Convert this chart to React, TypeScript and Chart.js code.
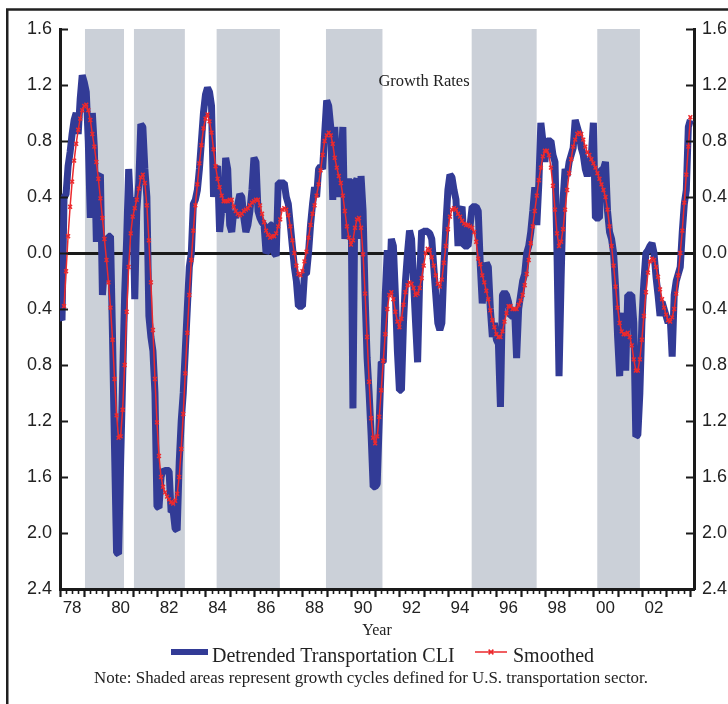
import React, { useEffect, useRef } from 'react';
import { Chart, registerables } from 'chart.js';

Chart.register(...registerables);

// ---- data (monthly values) ----
const START_YEAR = 1978;
const CLI_START_MONTH = 0; // Jan 1978
const SMOOTH_START_MONTH = 2; // Mar 1978

const cliValues = [
  -0.45, -0.48, 0.40, 0.42, 0.62, 0.72, 0.85, 0.95, 1.00, 0.85, 1.10, 1.27,
  1.22, 1.15, 0.80, 0.25, 1.00, 0.75, 0.08, 0.55, 0.56, -0.30, -0.10, -0.20,
  0.12, 0.12, -0.60, -1.40, -2.14, -2.15, -1.50, -0.90, -0.30, 0.10, 0.60, 0.30,
  0.40, -0.33, 0.30, 0.50, 0.92, 0.90, 0.60, 0.40, -0.45, -0.60, -0.70, -1.00,
  -1.81, -1.82, -1.60, -1.55, -1.56, -1.55, -1.56, -1.85, -1.84, -1.97, -1.98, -1.50,
  -1.20, -1.00, -0.70, -0.40, -0.10, 0.00, 0.35, 0.38, 0.45, 0.60, 0.80, 1.00,
  1.13, 1.18, 1.15, 1.05, 0.40, 0.60, 0.62, 0.15, 0.30, 0.30, 0.68, 0.60,
  0.20, 0.15, 0.30, 0.25, 0.35, 0.42, 0.40, 0.25, 0.15, 0.20, 0.30, 0.45,
  0.68, 0.65, 0.30, 0.25, 0.22, 0.20, 0.00, 0.02, 0.20, 0.20, 0.00, -0.02,
  0.50, 0.50, 0.50, 0.50, 0.40, 0.35, 0.20, 0.05, -0.10, -0.20, -0.38, -0.38,
  -0.38, -0.15, -0.15, 0.00, 0.20, 0.35, 0.47, 0.40, 0.60, 0.62, 0.60, 0.85,
  1.09, 1.05, 0.90, 0.38, 0.90, 0.55, 0.40, 0.60, 0.90, 0.10, 0.50, 0.52,
  0.50, -1.11, 0.50, 0.53, 0.10, 0.55, 0.30, -0.30, -0.75, -1.00, -1.30, -1.67,
  -1.67, -1.65, -1.20, -0.78, -0.78, -0.30, 0.02, -0.30, 0.10, 0.05, -0.30, -0.70,
  -0.98, -0.98, -0.50, -0.20, 0.00, 0.16, 0.10, -0.20, -0.50, -0.78, -0.20, 0.16,
  0.15, 0.16, 0.15, 0.14, 0.10, -0.10, -0.30, -0.50, -0.55, -0.50, -0.10, 0.20,
  0.45, 0.56, 0.54, 0.45, 0.38, 0.05, 0.30, 0.33, 0.05, 0.05, 0.05, 0.20,
  0.33, 0.33, 0.33, 0.30, -0.08, -0.36, -0.20, -0.07, -0.10, -0.40, -0.60, -0.50,
  -0.62, -0.65, -1.10, -0.30, -0.28, -0.30, -0.35, -0.45, -0.45, -0.40, -0.75, -0.40,
  -0.30, -0.20, -0.15, 0.00, 0.05, 0.15, 0.30, 0.47, 0.20, 0.50, 0.93, 0.80,
  0.65, 0.80, 0.80, 0.80, 0.70, 0.65, 0.00, -0.88, -0.20, 0.38, 0.60, 0.55,
  0.65, 0.70, 0.75, 0.95, 0.90, 0.85, 0.75, 0.70, 0.60, 0.55, 0.60, 0.70,
  0.93, 0.25, 0.25, 0.25, 0.60, 0.60, 0.65, 0.30, 0.15, 0.10, 0.00, -0.25,
  -0.60, -0.88, -0.50, -0.43, -0.84, -0.30, -0.30, -0.30, -0.50, -1.31, -1.30, -1.00,
  -0.50, -0.20, 0.00, 0.02, 0.05, 0.07, 0.00, -0.17, -0.30, -0.45, -0.35, -0.40,
  -0.45, -0.50, -0.45, -0.74, -0.30, -0.20, -0.15, -0.10, 0.15, 0.35, 0.45, 0.90,
  0.95,
];

const smoothedValues = [
  -0.38, -0.13, 0.12, 0.33, 0.51, 0.66, 0.78, 0.88, 0.96, 1.02,
  1.05, 1.06, 1.02, 0.95, 0.85, 0.76, 0.65, 0.53, 0.39, 0.25, 0.10, -0.05,
  -0.21, -0.39, -0.62, -0.90, -1.16, -1.32, -1.31, -1.12, -0.80, -0.42, -0.10, 0.14,
  0.26, 0.32, 0.38, 0.46, 0.54, 0.56, 0.50, 0.34, 0.09, -0.21, -0.55, -0.90,
  -1.21, -1.45, -1.60, -1.67, -1.71, -1.74, -1.76, -1.78, -1.79, -1.77, -1.72, -1.60,
  -1.40, -1.15, -0.86, -0.57, -0.30, -0.05, 0.16, 0.34, 0.49, 0.64, 0.77, 0.89,
  0.96, 0.99, 0.94, 0.86, 0.74, 0.62, 0.53, 0.47, 0.41, 0.37, 0.37, 0.37,
  0.38, 0.38, 0.33, 0.30, 0.28, 0.27, 0.28, 0.30, 0.31, 0.32, 0.34, 0.36,
  0.37, 0.38, 0.38, 0.34, 0.28, 0.22, 0.16, 0.13, 0.11, 0.12, 0.12, 0.14,
  0.19, 0.24, 0.31, 0.32, 0.31, 0.27, 0.19, 0.09, 0.00, -0.09, -0.15, -0.16,
  -0.13, -0.06, 0.01, 0.11, 0.20, 0.28, 0.34, 0.41, 0.49, 0.59, 0.70, 0.80,
  0.84, 0.86, 0.84, 0.78, 0.68, 0.61, 0.55, 0.50, 0.41, 0.30, 0.19, 0.11,
  0.06, 0.09, 0.18, 0.24, 0.25, 0.18, -0.01, -0.29, -0.60, -0.92, -1.18, -1.32,
  -1.36, -1.31, -1.17, -0.98, -0.77, -0.58, -0.40, -0.30, -0.28, -0.33, -0.42, -0.49,
  -0.53, -0.47, -0.37, -0.28, -0.23, -0.21, -0.22, -0.25, -0.30, -0.29, -0.25, -0.18,
  -0.09, 0.00, 0.03, 0.02, -0.03, -0.09, -0.16, -0.22, -0.24, -0.19, -0.07, 0.05,
  0.17, 0.26, 0.31, 0.32, 0.31, 0.28, 0.26, 0.23, 0.21, 0.20, 0.20, 0.19,
  0.18, 0.15, 0.08, -0.04, -0.08, -0.16, -0.21, -0.27, -0.33, -0.41, -0.48, -0.53,
  -0.58, -0.60, -0.60, -0.56, -0.49, -0.43, -0.38, -0.38, -0.40, -0.40, -0.40, -0.37,
  -0.34, -0.30, -0.23, -0.15, -0.05, 0.07, 0.19, 0.30, 0.41, 0.52, 0.61, 0.69,
  0.73, 0.73, 0.70, 0.61, 0.48, 0.31, 0.14, 0.05, 0.08, 0.17, 0.31, 0.45,
  0.57, 0.67, 0.76, 0.81, 0.85, 0.86, 0.85, 0.81, 0.76, 0.72, 0.70, 0.67,
  0.64, 0.61, 0.57, 0.53, 0.49, 0.45, 0.40, 0.31, 0.19, 0.05, -0.09, -0.24,
  -0.39, -0.50, -0.56, -0.58, -0.58, -0.57, -0.60, -0.66, -0.76, -0.84, -0.84, -0.76,
  -0.62, -0.45, -0.28, -0.14, -0.06, -0.04, -0.05, -0.10, -0.17, -0.26, -0.33, -0.39,
  -0.44, -0.48, -0.49, -0.46, -0.40, -0.29, -0.16, 0.00, 0.16, 0.36, 0.56, 0.76,
  0.97,
];

// growth-cycle shaded periods [start, end] in decimal years
const shadedStarts = [1979.03, 1981.05, 1984.46, 1988.97, 1994.98, 2000.16];
const shadedEnds = [1980.64, 1983.15, 1987.07, 1991.3, 1997.66, 2001.92];

const xLabelYears = [1978, 1980, 1982, 1984, 1986, 1988, 1990, 1992, 1994, 1996, 1998, 2000, 2002];
const yTickValues = [1.6, 1.2, 0.8, 0.4, 0.0, -0.4, -0.8, -1.2, -1.6, -2.0, -2.4];

const seriesLabels = ['Detrended Transportation CLI', 'Smoothed'];
const xTitle = 'Year';
const insideLabel = 'Growth Rates';
const noteText = 'Note: Shaded areas represent growth cycles defined for U.S. transportation sector.';

// ---- styles ----
const BLUE = '#323b96';
const RED = '#ec2a2e';
const AXIS = '#1a1a1a';
const BAND = '#cbd0d8';
const TEXT = '#222222';
const SANS = '"Liberation Sans", Arial, Helvetica, sans-serif';
const SERIF = '"Liberation Serif", "Times New Roman", Times, serif';

const X_MIN = 1978;
const X_MAX = 2004.15;

const toPoints = (vals: number[], startMonth: number) =>
  vals.map((v, i) => ({ x: START_YEAR + (startMonth + i) / 12, y: v }));

const isZero = (v: number) => Math.abs(v) < 1e-9;

const bandsPlugin = {
  id: 'bands',
  beforeDraw(chart: any) {
    const { ctx, chartArea, scales } = chart;
    ctx.save();
    ctx.fillStyle = '#ffffff';
    ctx.fillRect(0, 0, chart.width, chart.height);
    ctx.fillStyle = BAND;
    shadedStarts.forEach((s, k) => {
      const x0 = scales.x.getPixelForValue(s);
      const x1 = scales.x.getPixelForValue(shadedEnds[k]);
      ctx.fillRect(x0, chartArea.top, x1 - x0, chartArea.bottom - chartArea.top);
    });
    ctx.restore();
  },
};

const decorPlugin = {
  id: 'decor',
  afterDraw(chart: any) {
    const { ctx, chartArea, scales } = chart;
    const xs = scales.x;
    const ys = scales.y;
    ctx.save();
    ctx.strokeStyle = AXIS;
    // x-axis tick marks: yearly major, quarterly minor (pointing down)
    for (let y = Math.ceil(X_MIN); y <= Math.floor(X_MAX); y++) {
      for (let q = 0; q < 4; q++) {
        const v = y + q / 4;
        if (v > X_MAX) break;
        const px = Math.round(xs.getPixelForValue(v)) + 0.5;
        ctx.lineWidth = q === 0 ? 2.2 : 1.6;
        ctx.beginPath();
        ctx.moveTo(px, chartArea.bottom);
        ctx.lineTo(px, chartArea.bottom + (q === 0 ? 8 : 5));
        ctx.stroke();
      }
    }
    // y-axis tick marks pointing inward on both sides
    ctx.lineWidth = 2.2;
    yTickValues.forEach((v) => {
      const py = Math.round(ys.getPixelForValue(v)) + 0.5;
      ctx.beginPath();
      ctx.moveTo(chartArea.left, py);
      ctx.lineTo(chartArea.left + 8, py);
      ctx.moveTo(chartArea.right, py);
      ctx.lineTo(chartArea.right - 8, py);
      ctx.stroke();
    });

    // outer frame (top and left rules)
    ctx.strokeStyle = '#202020';
    ctx.lineWidth = 2.5;
    ctx.beginPath();
    ctx.moveTo(7.25, chart.height);
    ctx.lineTo(7.25, 9.5);
    ctx.lineTo(chart.width, 9.5);
    ctx.stroke();

    // in-plot label
    ctx.fillStyle = TEXT;
    ctx.font = `16.5px ${SERIF}`;
    ctx.textAlign = 'center';
    ctx.textBaseline = 'alphabetic';
    ctx.fillText(insideLabel, 424, 86);

    // legend
    const ly = 652;
    ctx.strokeStyle = BLUE;
    ctx.lineWidth = 6;
    ctx.beginPath();
    ctx.moveTo(171, ly);
    ctx.lineTo(208, ly);
    ctx.stroke();
    ctx.font = `20px ${SERIF}`;
    ctx.textAlign = 'left';
    ctx.fillStyle = TEXT;
    ctx.fillText(seriesLabels[0], 212, 661.5);

    ctx.strokeStyle = RED;
    ctx.lineWidth = 1.5;
    ctx.beginPath();
    ctx.moveTo(475, ly);
    ctx.lineTo(507, ly);
    const mx = 491;
    const r = 2.4;
    ctx.moveTo(mx - r, ly - r);
    ctx.lineTo(mx + r, ly + r);
    ctx.moveTo(mx - r, ly + r);
    ctx.lineTo(mx + r, ly - r);
    ctx.stroke();
    ctx.fillText(seriesLabels[1], 513, 661.5);

    // note
    ctx.font = `16.9px ${SERIF}`;
    ctx.textAlign = 'center';
    ctx.fillText(noteText, 371, 683);
    ctx.restore();
  },
};

export default function App() {
  const canvasRef = useRef<HTMLCanvasElement | null>(null);

  useEffect(() => {
    const canvas = canvasRef.current;
    if (!canvas) return;

    const yAxisCommon = {
      type: 'linear' as const,
      min: -2.4,
      max: 1.6,
      afterBuildTicks: (s: any) => {
        s.ticks = yTickValues.map((v) => ({ value: v }));
      },
      ticks: {
        padding: 8,
        color: TEXT,
        font: { family: SANS, size: 18 },
        callback: (v: any) => Math.abs(Number(v)).toFixed(1),
      },
      border: { display: true, color: AXIS, width: 3 },
    };

    const chart = new Chart(canvas, {
      type: 'line',
      data: {
        datasets: [
          {
            label: seriesLabels[0],
            data: toPoints(cliValues, CLI_START_MONTH),
            borderColor: BLUE,
            backgroundColor: BLUE,
            borderWidth: 7,
            pointRadius: 0,
            borderJoinStyle: 'bevel',
            borderCapStyle: 'butt',
            tension: 0,
            clip: 0,
            order: 2,
          },
          {
            label: seriesLabels[1],
            data: toPoints(smoothedValues, SMOOTH_START_MONTH),
            borderColor: RED,
            backgroundColor: RED,
            borderWidth: 1.5,
            pointStyle: 'crossRot',
            pointRadius: 2.7,
            pointBorderWidth: 1.5,
            pointBorderColor: RED,
            pointBackgroundColor: RED,
            tension: 0,
            order: 1,
          },
        ],
      },
      options: {
        responsive: false,
        maintainAspectRatio: false,
        animation: false,
        devicePixelRatio: 1,
        events: [],
        layout: { padding: { top: 29, left: 0, right: 0, bottom: 0 } },
        plugins: {
          legend: { display: false },
          tooltip: { enabled: false },
          title: { display: false },
        },
        scales: {
          x: {
            type: 'linear',
            position: 'bottom',
            min: X_MIN,
            max: X_MAX,
            afterBuildTicks: (s: any) => {
              s.ticks = xLabelYears.map((y) => ({ value: y + 0.5 }));
            },
            afterFit: (s: any) => {
              s.height = 115;
            },
            grid: { display: false, drawTicks: false },
            border: { display: true, color: AXIS, width: 3 },
            ticks: {
              autoSkip: false,
              maxRotation: 0,
              padding: 9,
              color: TEXT,
              font: { family: SANS, size: 17 },
              callback: (v: any) => String(Math.floor(Number(v)) % 100).padStart(2, '0'),
            },
            title: {
              display: true,
              text: xTitle,
              color: TEXT,
              font: { family: SERIF, size: 16 },
              padding: { top: 0, bottom: 64 },
            },
          },
          y: {
            ...yAxisCommon,
            position: 'left',
            afterFit: (s: any) => {
              s.width = 60;
            },
            grid: {
              display: true,
              drawTicks: false,
              color: (c: any) => (c.tick && isZero(c.tick.value) ? AXIS : 'rgba(0,0,0,0)'),
              lineWidth: (c: any) => (c.tick && isZero(c.tick.value) ? 3 : 0),
            },
          },
          y2: {
            ...yAxisCommon,
            position: 'right',
            afterFit: (s: any) => {
              s.width = 34;
            },
            grid: { display: false, drawTicks: false },
          },
        },
      },
      plugins: [bandsPlugin, decorPlugin],
    } as any);

    return () => {
      chart.destroy();
    };
  }, []);

  return (
    <canvas
      ref={canvasRef}
      width={728}
      height={704}
      style={{ position: 'absolute', left: 0, top: 0, width: 728, height: 704, display: 'block' }}
    />
  );
}
